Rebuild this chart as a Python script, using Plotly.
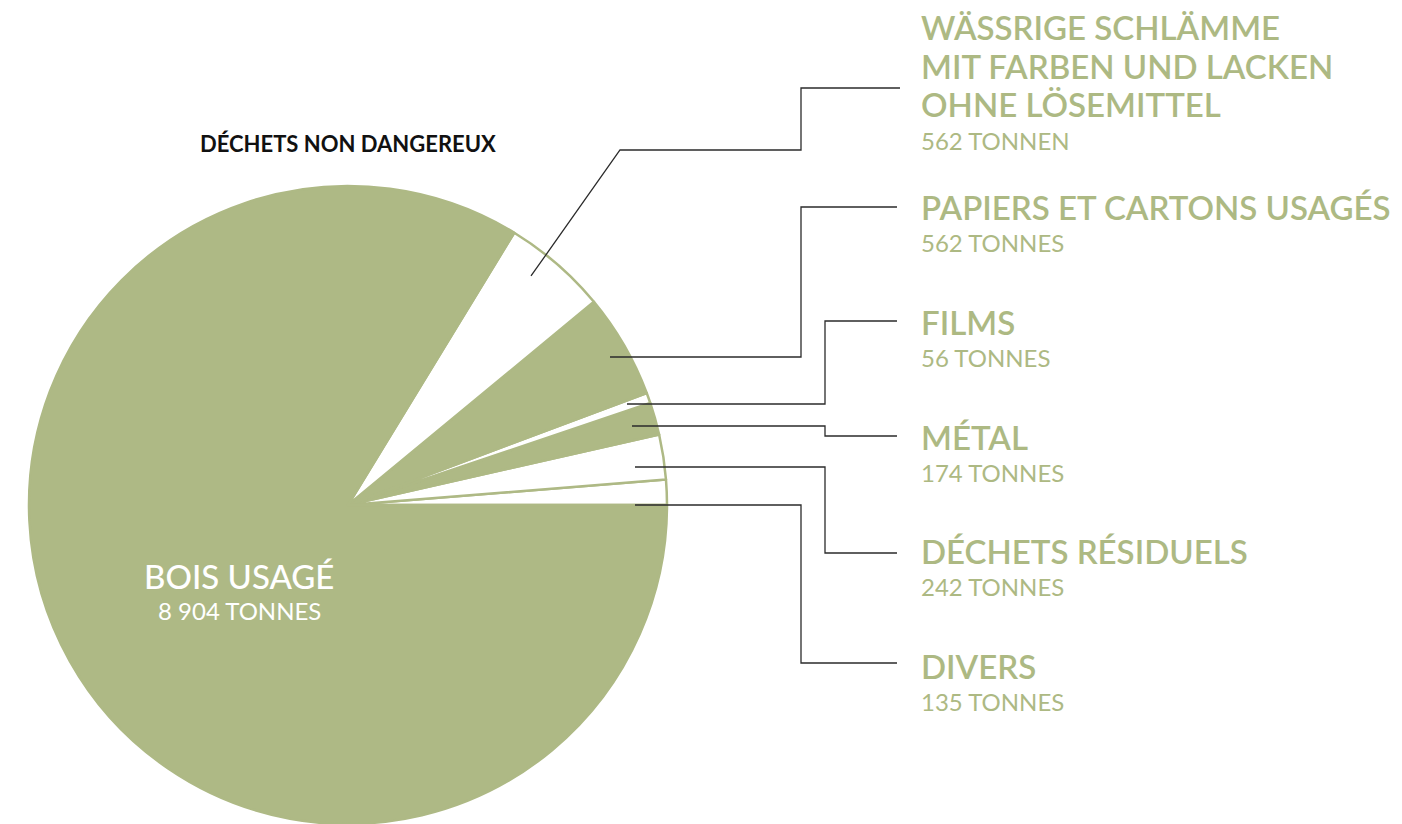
import plotly.graph_objects as go

# ---------------- data ----------------
categories = [
    "DIVERS",
    "DÉCHETS RÉSIDUELS",
    "MÉTAL",
    "FILMS",
    "PAPIERS ET CARTONS USAGÉS",
    "WÄSSRIGE SCHLÄMME MIT FARBEN UND LACKEN OHNE LÖSEMITTEL",
    "BOIS USAGÉ",
]
display_lines = [
    ["DIVERS"],
    ["DÉCHETS RÉSIDUELS"],
    ["MÉTAL"],
    ["FILMS"],
    ["PAPIERS ET CARTONS USAGÉS"],
    ["WÄSSRIGE SCHLÄMME", "MIT FARBEN UND LACKEN", "OHNE LÖSEMITTEL"],
    ["BOIS USAGÉ"],
]
values = [135, 242, 174, 56, 562, 562, 8904]
unit_labels = ["135 TONNES", "242 TONNES", "174 TONNES", "56 TONNES",
               "562 TONNES", "562 TONNEN", "8 904 TONNES"]
chart_title = "DÉCHETS NON DANGEREUX"

# ---------------- style ----------------
W, H = 1402, 824
OFF = 8  # page body margin
GREEN = "#aeb985"
TEXT_GREEN = "#adb983"
fills = ["white", "white", GREEN, "white", GREEN, "white", GREEN]
FONT = "Lato"


def px(x):
    return (x - OFF) / W


def py(y):
    return 1 - (y - OFF) / H


# pie placement (screen pixels)
cx, cy, r = 348, 505, 319

# first slice starts at 3 o'clock and the slices run counter-clockwise
total = sum(values)
rotation = 90 - values[0] / total * 360

fig = go.Figure()
fig.add_trace(go.Pie(
    values=values,
    labels=categories,
    sort=False,
    direction="counterclockwise",
    rotation=rotation,
    marker=dict(colors=fills, line=dict(color=GREEN, width=2.5)),
    textinfo="none",
    hoverinfo="label+value",
    showlegend=False,
    domain=dict(x=[px(cx - r), px(cx + r)], y=[py(cy + r), py(cy - r)]),
))

annotations = []
shapes = []

# chart title
annotations.append(dict(
    x=px(348), y=py(143), xref="paper", yref="paper", showarrow=False,
    text=chart_title, xanchor="center", yanchor="middle",
    font=dict(family=FONT, size=22, color="#111111", weight=700),
))

# label blocks on the right: (first title line centre y, subtitle y)
label_pos = {
    0: (666, 701),
    1: (551, 586),
    2: (437, 472),
    3: (322, 357),
    4: (207, 242),
    5: (27, 140),
}
LINE_GAP = 38.5
for i, (ty, sy) in label_pos.items():
    for k, line in enumerate(display_lines[i]):
        annotations.append(dict(
            x=px(919), y=py(ty + k * LINE_GAP), xref="paper", yref="paper",
            showarrow=False, text=line, xanchor="left", yanchor="middle",
            align="left",
            font=dict(family=FONT, size=33, color=TEXT_GREEN, weight=600),
        ))
    annotations.append(dict(
        x=px(919), y=py(sy), xref="paper", yref="paper", showarrow=False,
        text=unit_labels[i], xanchor="left", yanchor="middle", align="left",
        font=dict(family=FONT, size=24, color=TEXT_GREEN, weight=400),
    ))

# inner label for the large slice
annotations.append(dict(
    x=px(239), y=py(576), xref="paper", yref="paper", showarrow=False,
    text=display_lines[6][0], xanchor="center", yanchor="middle",
    font=dict(family=FONT, size=33, color="white", weight=500),
))
annotations.append(dict(
    x=px(239), y=py(610), xref="paper", yref="paper", showarrow=False,
    text=unit_labels[6], xanchor="center", yanchor="middle",
    font=dict(family=FONT, size=24, color="white", weight=400),
))

# leader lines (decoration, screen pixels)
leaders = [
    [(635, 505), (801, 505), (801, 663), (897, 663)],
    [(635, 467), (825, 467), (825, 553), (897, 553)],
    [(632, 426), (825, 426), (825, 436), (897, 436)],
    [(627, 404), (825, 404), (825, 321), (897, 321)],
    [(610, 357), (801, 357), (801, 207), (897, 207)],
    [(531, 276), (620, 150), (801, 150), (801, 88), (900, 88)],
]
for pts in leaders:
    path = "M " + " L ".join(f"{px(x):.5f},{py(y):.5f}" for x, y in pts)
    shapes.append(dict(type="path", xref="paper", yref="paper", path=path,
                       line=dict(color="#2b2b2b", width=1.3)))

fig.update_layout(
    width=W, height=H,
    margin=dict(l=0, r=0, t=0, b=0),
    paper_bgcolor="white", plot_bgcolor="white",
    annotations=annotations, shapes=shapes,
)

fig.write_html("out.html")
